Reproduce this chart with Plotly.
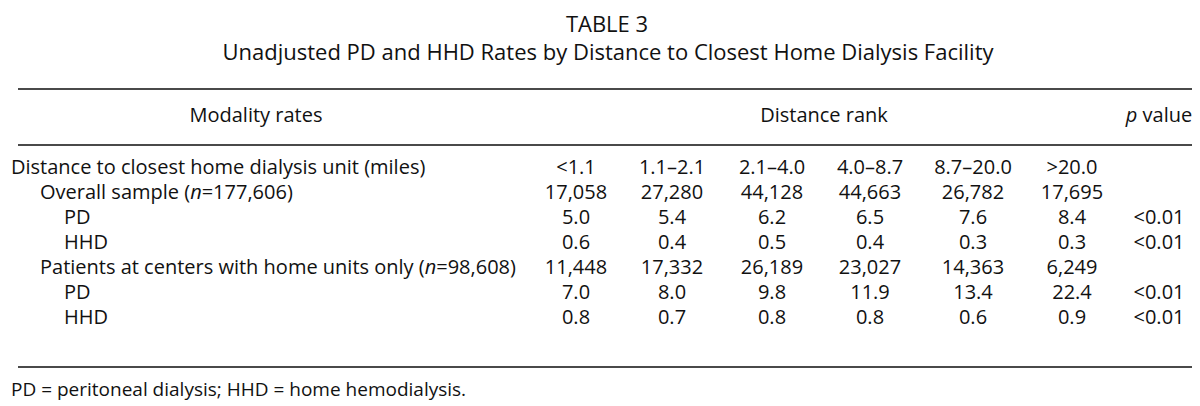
import plotly.graph_objects as go

# ---- data ----
table_title = "TABLE 3"
table_subtitle = "Unadjusted PD and HHD Rates by Distance to Closest Home Dialysis Facility"
header_label = "Modality rates"
header_group = "Distance rank"
header_p = "<i>p</i> value"
distance_ranks = ["<1.1", "1.1–2.1", "2.1–4.0", "4.0–8.7", "8.7–20.0", ">20.0"]
row_labels = [
    "Distance to closest home dialysis unit (miles)",
    "Overall sample (<i>n</i>=177,606)",
    "PD",
    "HHD",
    "Patients at centers with home units only (<i>n</i>=98,608)",
    "PD",
    "HHD",
]
row_indent_level = [0, 1, 2, 2, 1, 2, 2]
overall_n = ["17,058", "27,280", "44,128", "44,663", "26,782", "17,695"]
overall_pd = [5.0, 5.4, 6.2, 6.5, 7.6, 8.4]
overall_hhd = [0.6, 0.4, 0.5, 0.4, 0.3, 0.3]
home_n = ["11,448", "17,332", "26,189", "23,027", "14,363", "6,249"]
home_pd = [7.0, 8.0, 9.8, 11.9, 13.4, 22.4]
home_hhd = [0.8, 0.7, 0.8, 0.8, 0.6, 0.9]
p_values = ["", "", "<0.01", "<0.01", "", "<0.01", "<0.01"]
footnote = "PD = peritoneal dialysis; HHD = home hemodialysis."

# ---- layout constants ----
W, H = 1200, 406
FONT = "Open Sans"
COLOR = "#111111"
FS = 20
col_x = [568, 664, 764, 862, 965, 1064]
p_x = 1151
row_y0, row_dy = 161, 25
indent_x = [3, 32, 56]
header_y = 109


def esc(s):
    return (s.replace("<i>", "\x01").replace("</i>", "\x02")
             .replace("<", "&lt;").replace(">", "&gt;")
             .replace("\x01", "<i>").replace("\x02", "</i>"))


def fmt(v):
    return v if isinstance(v, str) else f"{v:.1f}"


def font(size=FS):
    return dict(family=FONT, size=size, color=COLOR)


def text_trace(xs, ys, texts, pos="middle center", size=FS):
    return go.Scatter(x=xs, y=ys, text=texts, mode="text", textposition=pos,
                      textfont=font(size), hoverinfo="skip", showlegend=False)


body = [distance_ranks, overall_n, overall_pd, overall_hhd, home_n, home_pd, home_hhd]
row_y = [row_y0 + i * row_dy for i in range(len(row_labels))]

fig = go.Figure()

# title block
fig.add_trace(text_trace([599], [18], [table_title], size=22))
fig.add_trace(text_trace([600], [46], [table_subtitle], size=22))

# header row
fig.add_trace(text_trace([248, 816, p_x], [header_y] * 3,
                         [header_label, header_group, header_p]))

# row labels
for lvl in sorted(set(row_indent_level)):
    idx = [i for i, l in enumerate(row_indent_level) if l == lvl]
    fig.add_trace(text_trace([indent_x[lvl]] * len(idx), [row_y[i] for i in idx],
                             [esc(row_labels[i]) for i in idx], pos="middle right"))

# body columns
for c in range(len(distance_ranks)):
    fig.add_trace(text_trace([col_x[c]] * len(body), row_y,
                             [esc(fmt(r[c])) for r in body]))

# p values
fig.add_trace(text_trace([p_x] * len(p_values), row_y, [esc(p) for p in p_values]))

# footnote
fig.add_trace(text_trace([3], [383], [footnote], pos="middle right", size=19))

line = dict(color="#4a4a4a", width=2)
shapes = [
    dict(type="line", xref="x", yref="y", x0=10, x1=1187, y0=y, y1=y, line=line)
    for y in (81, 137, 359)
]

fig.update_layout(
    width=W, height=H, margin=dict(l=0, r=0, t=0, b=0),
    paper_bgcolor="white", plot_bgcolor="white",
    xaxis=dict(range=[0, W], visible=False, fixedrange=True),
    yaxis=dict(range=[H, 0], visible=False, fixedrange=True),
    shapes=shapes,
)

fig.write_html("out.html")
